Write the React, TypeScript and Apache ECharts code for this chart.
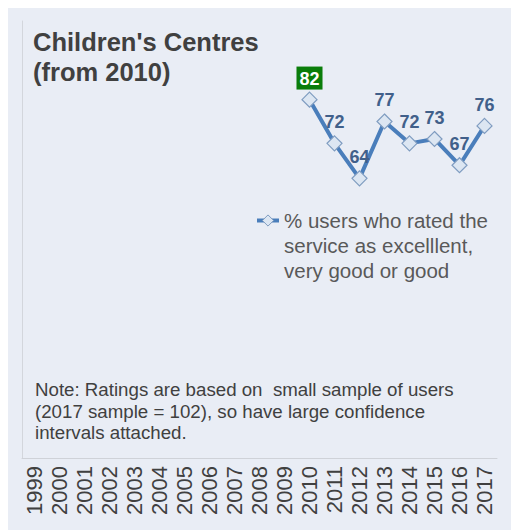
import React, { useEffect, useRef } from "react";
import * as echarts from "echarts";

const years = ["1999","2000","2001","2002","2003","2004","2005","2006","2007","2008","2009","2010","2011","2012","2013","2014","2015","2016","2017"];
const ratings: (number | null)[] = [null,null,null,null,null,null,null,null,null,null,null,82,72,64,77,72,73,67,76];
const highlightYear = "2010";
const seriesName = "% users who rated the service as excelllent, very good or good";
const legendLines = ["% users who rated the", "service as excelllent,", "very good or good"];
const titleText = "Children's Centres\n(from 2010)";
const noteText = "Note: Ratings are based on  small sample of users\n(2017 sample = 102), so have large confidence\nintervals attached.";

const FONT = "Liberation Sans, Arial, sans-serif";

export default function App() {
  const ref = useRef<HTMLDivElement>(null);
  useEffect(() => {
    const chart = echarts.init(ref.current!, null, { renderer: "svg" });
    const data = ratings.map((v, i) => {
      if (v === null) return null;
      if (years[i] === highlightYear) {
        return {
          value: v,
          label: { show: true, position: "top", distance: 2, backgroundColor: "#0a7d0a", color: "#ffffff", padding: [3, 3, 2, 3] },
        };
      }
      return { value: v };
    });
    chart.setOption({
      animation: false,
      backgroundColor: "#e9edf5",
      textStyle: { fontFamily: FONT },
      grid: { left: 14, right: 14, top: 13, bottom: 72, containLabel: false },
      xAxis: {
        type: "category",
        data: years,
        boundaryGap: true,
        axisLine: { show: true, lineStyle: { color: "#cfd2d8", width: 1 } },
        axisTick: { show: false },
        axisLabel: { rotate: 90, color: "#404040", fontSize: 22, margin: 8, interval: 0, fontFamily: FONT },
      },
      yAxis: {
        type: "value",
        min: 0,
        max: 100,
        axisLine: { show: true, lineStyle: { color: "#d3d6dc", width: 1 } },
        axisTick: { show: false },
        axisLabel: { show: false },
        splitLine: { show: false },
      },
      legend: {
        show: true,
        left: 242,
        top: 169,
        orient: "vertical",
        itemWidth: 22,
        itemHeight: 14,
        itemGap: 0,
        lineStyle: { width: 4, color: "#4a7ebb" },
        itemStyle: { color: "#dce6f2", borderColor: "#7f9cc0", borderWidth: 1 },
        formatter: () => "{s| }\n" + legendLines.map((l) => "{a|" + l + "}").join("\n"),
        textStyle: {
          color: "#595959",
          fontFamily: FONT,
          rich: {
            s: { fontSize: 2, lineHeight: 50 },
            a: { fontSize: 20.5, lineHeight: 25, color: "#595959", fontFamily: FONT },
          },
        },
        data: [{ name: seriesName }],
      },
      graphic: [
        {
          type: "text",
          left: 25,
          top: 19,
          style: { text: titleText, fill: "#404040", font: "bold 25.5px " + FONT, lineHeight: 30 },
        },
        {
          type: "text",
          left: 27,
          top: 371,
          style: { text: noteText, fill: "#404040", font: "18.7px " + FONT, lineHeight: 21.5 },
        },
      ],
      series: [
        {
          name: seriesName,
          type: "line",
          data,
          connectNulls: false,
          symbol: "diamond",
          symbolSize: 15,
          lineStyle: { color: "#4a7ebb", width: 4 },
          itemStyle: { color: "#dce6f2", borderColor: "#7f9cc0", borderWidth: 1.2 },
          label: { show: true, position: "top", distance: 4, color: "#41608a", fontSize: 18, fontWeight: "bold", fontFamily: FONT },
        },
      ],
    });
    return () => chart.dispose();
  }, []);
  return <div ref={ref} style={{ width: 503, height: 522 }} />;
}
